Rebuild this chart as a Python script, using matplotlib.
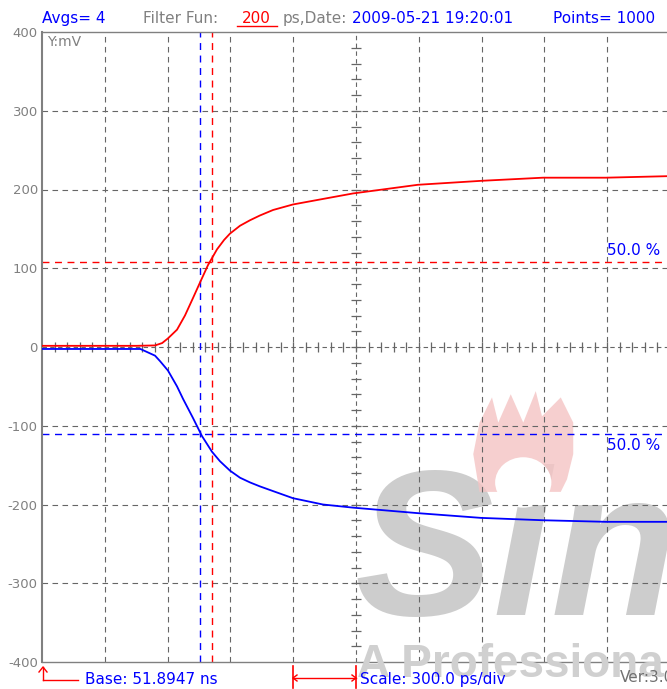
import numpy as np
import matplotlib
matplotlib.use("Agg")
import matplotlib.pyplot as plt
from matplotlib.lines import Line2D
from matplotlib.patches import Polygon, Ellipse

# time after base (ps) and the two channel voltages (mV)
red_t = [0, 450, 540, 574, 602, 645, 683, 721, 755, 793, 836, 870, 898, 946,
         994, 1041, 1104, 1199, 1342, 1486, 1796, 2097, 2393, 2694, 3000]
red_mv = [1.5, 1.5, 2, 5, 11, 22, 40, 62, 82, 104, 124, 136, 144, 154,
          161, 167, 174, 181, 188, 195, 206, 211, 215, 215, 217]

blue_t = [0, 470, 540, 564, 602, 645, 674, 721, 764, 812, 850, 874, 898, 946,
          994, 1041, 1104, 1199, 1342, 1486, 1796, 2097, 2393, 2694, 3000]
blue_mv = [-2.5, -2.5, -11, -18, -30, -50, -66, -90, -113, -133, -145, -151,
           -157, -166, -172, -177, -183, -192, -200, -204, -211, -217, -220, -222, -222]

# cursors
red_cursor_t = 812
blue_cursor_t = 755
red_level = 107.5
blue_level = -111

y_ticks = [400, 300, 200, 100, 0, -100, -200, -300, -400]
x_div = 300  # ps/div

plt.rcParams["font.family"] = ["DejaVu Sans"]

W, H = 667, 689
fig = plt.figure(figsize=(W / 100, H / 100), dpi=100)

left, right, top, bottom = 42, 667, 32, 662
ax = fig.add_axes([left / W, 1 - bottom / H, (right - left) / W, (bottom - top) / H])
x_max = (right - left) / 62.8 * x_div
ax.set_xlim(0, x_max)
ax.set_ylim(-400, 400)

grid_c = "#666666"
dash = (0, (5, 4))
fs = 11

# watermark
ax.text(0.50, 0.075, "Sin", transform=ax.transAxes, fontsize=150, fontweight="bold",
        fontstyle="italic", color="#cdcdcd", zorder=0, ha="left", va="baseline",
        family="Liberation Sans")
fig.text(357 / W, 1 - 677 / H, "A Professional", fontsize=33, fontweight="bold",
         color="#d0d0d0", zorder=0, ha="left", va="baseline", family="Liberation Sans")
flame = Polygon([[0.70, 0.27], [0.69, 0.33], [0.70, 0.38], [0.72, 0.42], [0.73, 0.38],
                 [0.75, 0.425], [0.77, 0.38], [0.79, 0.43], [0.80, 0.39], [0.83, 0.42],
                 [0.85, 0.38], [0.85, 0.33], [0.84, 0.29], [0.83, 0.27]],
                closed=True, transform=ax.transAxes, facecolor="#f4c4c4",
                edgecolor="none", zorder=0, alpha=0.8)
ax.add_patch(flame)
ax.add_patch(Ellipse((0.77, 0.285), 0.09, 0.08, transform=ax.transAxes,
                     facecolor="white", edgecolor="none", zorder=0.5))

# grid
for i in range(1, 11):
    if i == 5:
        continue
    ax.axvline(i * x_div, color=grid_c, lw=0.8, ls=dash, zorder=1)
for yv in y_ticks[1:-1]:
    if yv == 0:
        continue
    ax.axhline(yv, color=grid_c, lw=0.8, ls=dash, zorder=1)

# center lines with minor ticks
ax.axhline(0, color=grid_c, lw=0.8, ls=(0, (4, 3)), zorder=1)
ax.axvline(5 * x_div, color=grid_c, lw=0.8, ls=(0, (4, 3)), zorder=1)
mx = np.arange(60, x_max, 60)
ax.plot(mx, np.zeros_like(mx), ls="none", marker="|", ms=7, mew=0.9, color=grid_c, zorder=1)
my = np.arange(-380, 400, 20)
ax.plot(np.full_like(my, 5 * x_div, dtype=float), my, ls="none", marker="_", ms=7,
        mew=0.9, color=grid_c, zorder=1)

# cursors
ax.axvline(blue_cursor_t, color="#0000ff", lw=1.0, ls=dash, zorder=2)
ax.axvline(red_cursor_t, color="#ff0000", lw=1.0, ls=dash, zorder=2)
ax.axhline(red_level, color="#ff0000", lw=1.0, ls=dash, zorder=2)
ax.axhline(blue_level, color="#0000ff", lw=1.0, ls=dash, zorder=2)
ax.text(2700, red_level + 6, "50.0 %", color="#0000ff", fontsize=fs, va="bottom", ha="left")
ax.text(2700, blue_level - 5, "50.0 %", color="#0000ff", fontsize=fs, va="top", ha="left")

# traces
ax.plot(red_t, red_mv, color="#ff0000", lw=1.3, zorder=3)
ax.plot(blue_t, blue_mv, color="#0000ff", lw=1.3, zorder=3)

# axes styling
for s in ["left", "top", "bottom"]:
    ax.spines[s].set_color("#808080")
ax.spines["left"].set_linewidth(1.5)
ax.spines["top"].set_linewidth(1.0)
ax.spines["bottom"].set_linewidth(1.0)
ax.spines["right"].set_visible(False)
ax.set_xticks([])
ax.set_yticks(y_ticks)
ax.set_yticklabels([str(v) for v in y_ticks])
ax.tick_params(axis="y", length=0, pad=3, labelsize=9.5, labelcolor="#808080")
ax.text(0.008, 0.996, "Y:mV", transform=ax.transAxes, color="#808080", fontsize=10,
        ha="left", va="top")

# header
hy = 1 - 23 / H
fig.text(42 / W, hy, "Avgs= 4", color="#0000ff", fontsize=fs)
fig.text(143 / W, hy, "Filter Fun:", color="#808080", fontsize=fs)
fig.text(242 / W, hy, "200", color="#ff0000", fontsize=fs)
fig.add_artist(Line2D([237 / W, 277 / W], [1 - 26 / H, 1 - 26 / H], color="#ff0000", lw=1.0))
fig.text(283 / W, hy, "ps,Date:", color="#808080", fontsize=fs)
fig.text(352 / W, hy, "2009-05-21 19:20:01", color="#0000ff", fontsize=fs)
fig.text(553 / W, hy, "Points= 1000", color="#0000ff", fontsize=fs)

# footer
by = 1 - 684 / H
red = "#ff0000"
fig.add_artist(Line2D([43 / W, 43 / W], [1 - 680 / H, 1 - 667 / H], color=red, lw=1.0))
fig.add_artist(Line2D([39 / W, 43 / W, 47 / W], [1 - 672 / H, 1 - 667 / H, 1 - 672 / H],
                      color=red, lw=1.0))
fig.add_artist(Line2D([43 / W, 78 / W], [1 - 680 / H, 1 - 680 / H], color=red, lw=1.0))
fig.text(85 / W, by, "Base: 51.8947 ns", color="#0000ff", fontsize=fs)

for xp in (293, 356):
    fig.add_artist(Line2D([xp / W, xp / W], [1 - 666 / H, 1 - 688 / H], color=red, lw=1.2))
fig.add_artist(Line2D([293 / W, 356 / W], [1 - 678 / H, 1 - 678 / H], color=red, lw=1.0))
fig.add_artist(Line2D([297 / W, 293 / W, 297 / W], [1 - 675 / H, 1 - 678 / H, 1 - 681 / H],
                      color=red, lw=1.0))
fig.add_artist(Line2D([352 / W, 356 / W, 352 / W], [1 - 675 / H, 1 - 678 / H, 1 - 681 / H],
                      color=red, lw=1.0))
fig.text(360 / W, by, "Scale: 300.0 ps/div", color="#0000ff", fontsize=fs)
fig.text(620 / W, 1 - 682 / H, "Ver:3.06", color="#707070", fontsize=fs)

fig.savefig("out.png", dpi=100)
